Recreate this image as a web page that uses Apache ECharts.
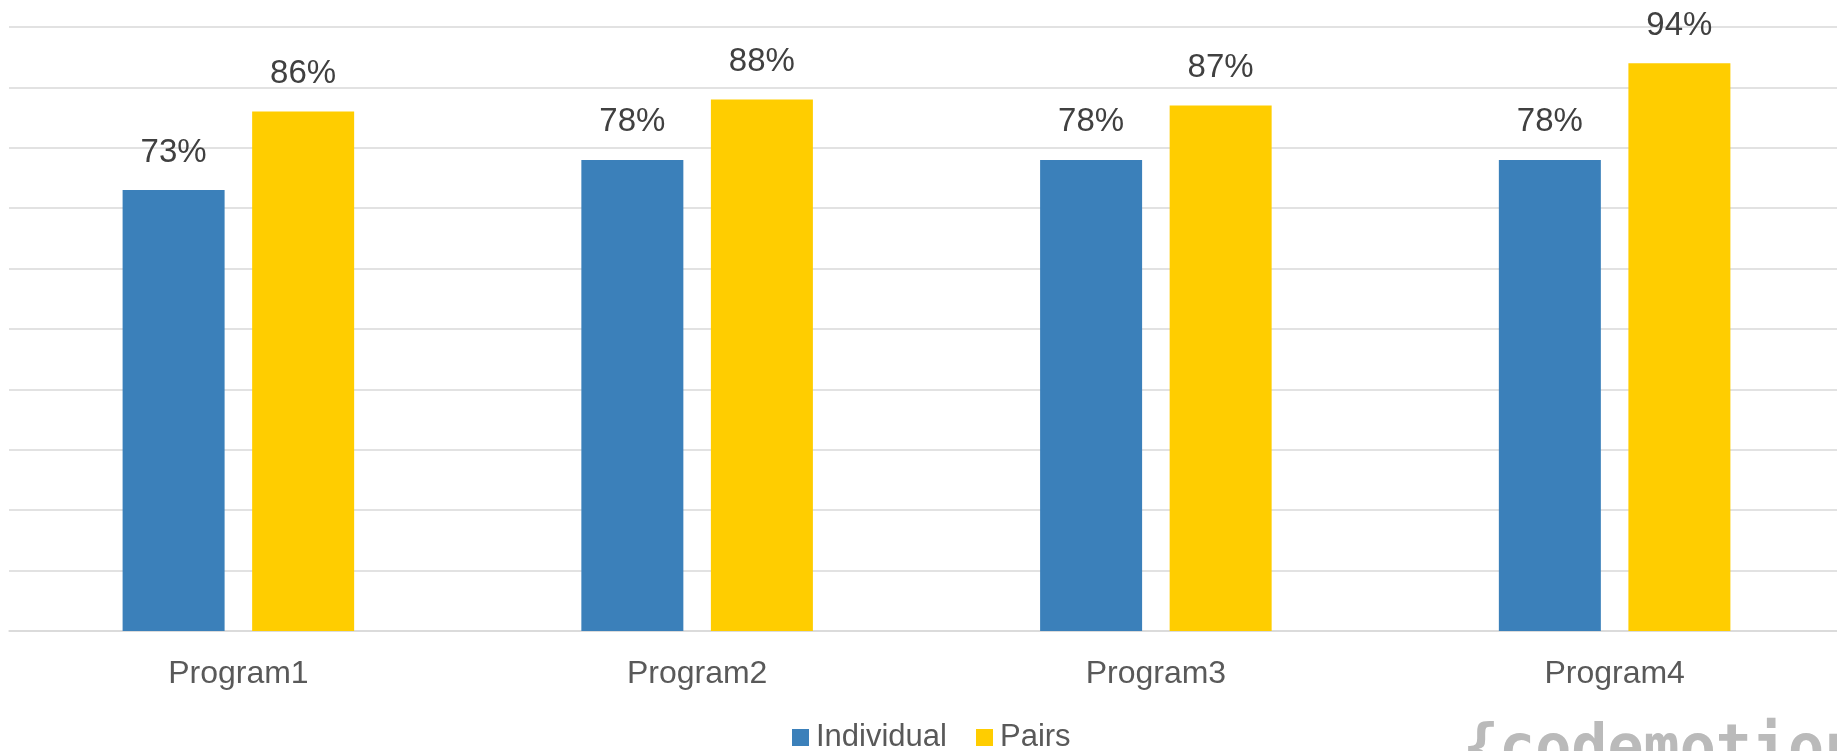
<!DOCTYPE html>
<html>
<head>
<meta charset="utf-8">
<script src="https://cdn.jsdelivr.net/npm/echarts@6/dist/echarts.min.js"></script>
<style>
html,body{margin:0;padding:0;background:#fff;}
#chart{width:1837px;height:751px;}
</style>
</head>
<body>
<div id="chart"></div>
<script>
const categories = ['Program1', 'Program2', 'Program3', 'Program4'];
const individual = [73, 78, 78, 78];
const pairs = [86, 88, 87, 94];
const seriesNames = ['Individual', 'Pairs'];

const chart = echarts.init(document.getElementById('chart'));
const font = '"Liberation Sans", Arial, sans-serif';
const labelCfg = {
  show: true,
  position: 'top',
  distance: 21,
  formatter: '{c}%',
  color: '#404040',
  fontSize: 33,
  fontFamily: font
};
chart.setOption({
  animation: false,
  backgroundColor: '#ffffff',
  grid: { left: 9, top: 27, width: 1835, bottom: 120, containLabel: false, outerBoundsMode: 'none' },
  legend: {
    data: seriesNames,
    left: 792,
    top: 722,
    padding: 0,
    itemWidth: 17,
    itemHeight: 17,
    itemGap: 29,
    icon: 'rect',
    textStyle: { color: '#595959', fontSize: 31, fontFamily: font, padding: [0, 0, 0, 2] }
  },
  xAxis: {
    type: 'category',
    data: categories,
    axisLine: { show: true, lineStyle: { color: '#d9d9d9', width: 1.5 } },
    axisTick: { show: false },
    axisLabel: { color: '#595959', fontSize: 32, fontFamily: font, margin: 27 }
  },
  yAxis: {
    type: 'value',
    min: 0,
    max: 100,
    interval: 10,
    axisLabel: { show: false },
    axisLine: { show: false },
    axisTick: { show: false },
    splitLine: { lineStyle: { color: '#d9d9d9', width: 1.5 } }
  },
  series: [
    {
      name: seriesNames[0],
      type: 'bar',
      data: individual,
      barWidth: 102,
      barGap: '27%',
      itemStyle: { color: '#3b80ba' },
      label: labelCfg
    },
    {
      name: seriesNames[1],
      type: 'bar',
      data: pairs,
      barWidth: 102,
      barGap: '27%',
      itemStyle: { color: '#ffcd00' },
      label: labelCfg
    }
  ],
  graphic: [
    {
      type: 'text',
      left: 1463,
      top: 721,
      silent: true,
      style: {
        text: '{codemotion',
        fill: '#bababa',
        font: 'bold 60px "DejaVu Sans Mono", monospace'
      }
    }
  ]
});
</script>
</body>
</html>
